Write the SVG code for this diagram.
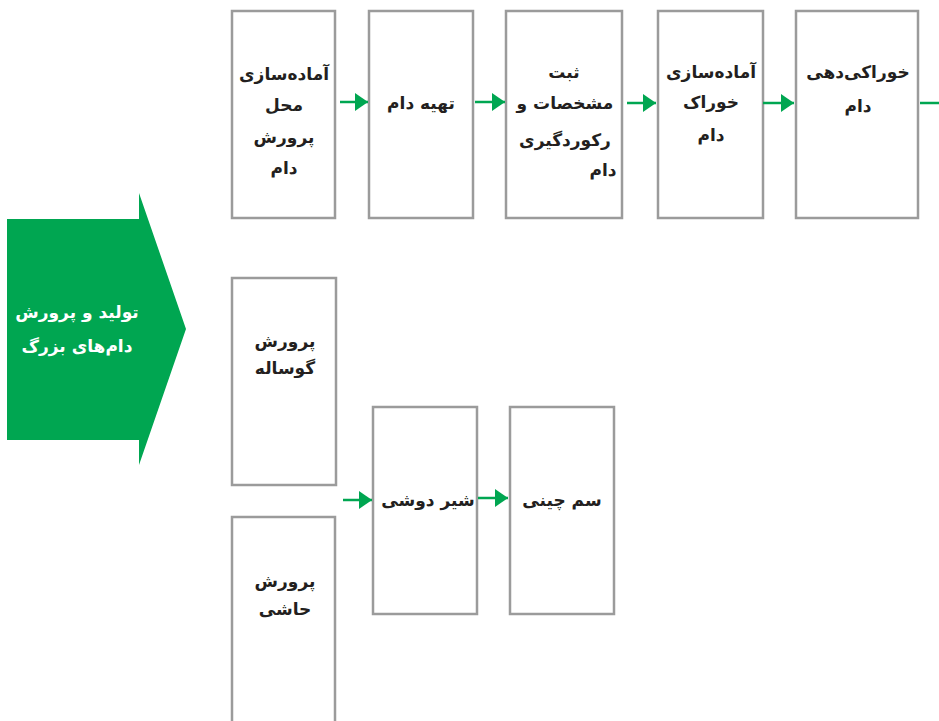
<svg xmlns="http://www.w3.org/2000/svg" width="939" height="721" viewBox="0 0 939 721">
<defs>
<marker id="ah" markerUnits="userSpaceOnUse" markerWidth="14" markerHeight="18" refX="13" refY="9" orient="auto">
<path d="M0,0 L13,9 L0,18 Z" fill="#00a651"/>
</marker>
<style>
.box{fill:#fff;stroke:#9b9b9b;stroke-width:2.5}
.t{font-family:"DejaVu Sans",sans-serif;font-weight:bold;font-size:17px;fill:#231f20;text-anchor:middle;direction:rtl}
.w{fill:#fff;font-size:17px}
.c{stroke:#00a651;stroke-width:2.5;fill:none;marker-end:url(#ah)}
</style>
</defs>
<rect width="939" height="721" fill="#fff"/>
<g id="main">
<path d="M7,219 L139,219 L139,193 L186,329 L139,465 L139,440 L7,440 Z" fill="#00a651"/>
<text class="t w" x="77" y="318">تولید و پرورش</text>
<text class="t w" x="77" y="352">دام‌های بزرگ</text>
</g>
<g id="n1">
<rect class="box" x="232" y="11" width="103" height="207"/>
<text class="t" x="284" y="80">آماده‌سازی</text>
<text class="t" x="284" y="111">محل</text>
<text class="t" x="284" y="143">پرورش</text>
<text class="t" x="284" y="174">دام</text>
</g>
<g id="n2">
<rect class="box" x="369" y="11" width="104" height="207"/>
<text class="t" x="421" y="109">تهیه دام</text>
</g>
<g id="n3">
<rect class="box" x="506" y="11" width="116" height="207"/>
<text class="t" x="564" y="78">ثبت</text>
<text class="t" x="565" y="109">مشخصات و</text>
<text class="t" x="565" y="146">رکوردگیری</text>
<text class="t" x="603" y="176">دام</text>
</g>
<g id="n4">
<rect class="box" x="658" y="11" width="105" height="207"/>
<text class="t" x="711" y="78">آماده‌سازی</text>
<text class="t" x="711" y="108">خوراک</text>
<text class="t" x="711" y="141">دام</text>
</g>
<g id="n5">
<rect class="box" x="796" y="11" width="122" height="207"/>
<text class="t" x="858" y="78">خوراکی‌دهی</text>
<text class="t" x="858" y="112">دام</text>
</g>
<g id="n6">
<rect class="box" x="232" y="278" width="104" height="207"/>
<text class="t" x="285" y="347">پرورش</text>
<text class="t" x="285" y="374">گوساله</text>
</g>
<g id="n7">
<rect class="box" x="232" y="517" width="103" height="215"/>
<text class="t" x="285" y="587">پرورش</text>
<text class="t" x="285" y="615">حاشی</text>
</g>
<g id="n8">
<rect class="box" x="373" y="407" width="104" height="207"/>
<text class="t" x="428" y="506">شیر دوشی</text>
</g>
<g id="n9">
<rect class="box" x="510" y="407" width="104" height="207"/>
<text class="t" x="562" y="506">سم چینی</text>
</g>
<g id="connectors">
<line class="c" x1="340" y1="102" x2="368" y2="102"/>
<line class="c" x1="475" y1="102" x2="505" y2="102"/>
<line class="c" x1="627" y1="103" x2="656" y2="103"/>
<line class="c" x1="763" y1="103" x2="794" y2="103"/>
<line class="c" x1="920" y1="103" x2="952" y2="103"/>
<line class="c" x1="343" y1="500" x2="372" y2="500"/>
<line class="c" x1="478" y1="498" x2="508" y2="498"/>
</g>
</svg>
